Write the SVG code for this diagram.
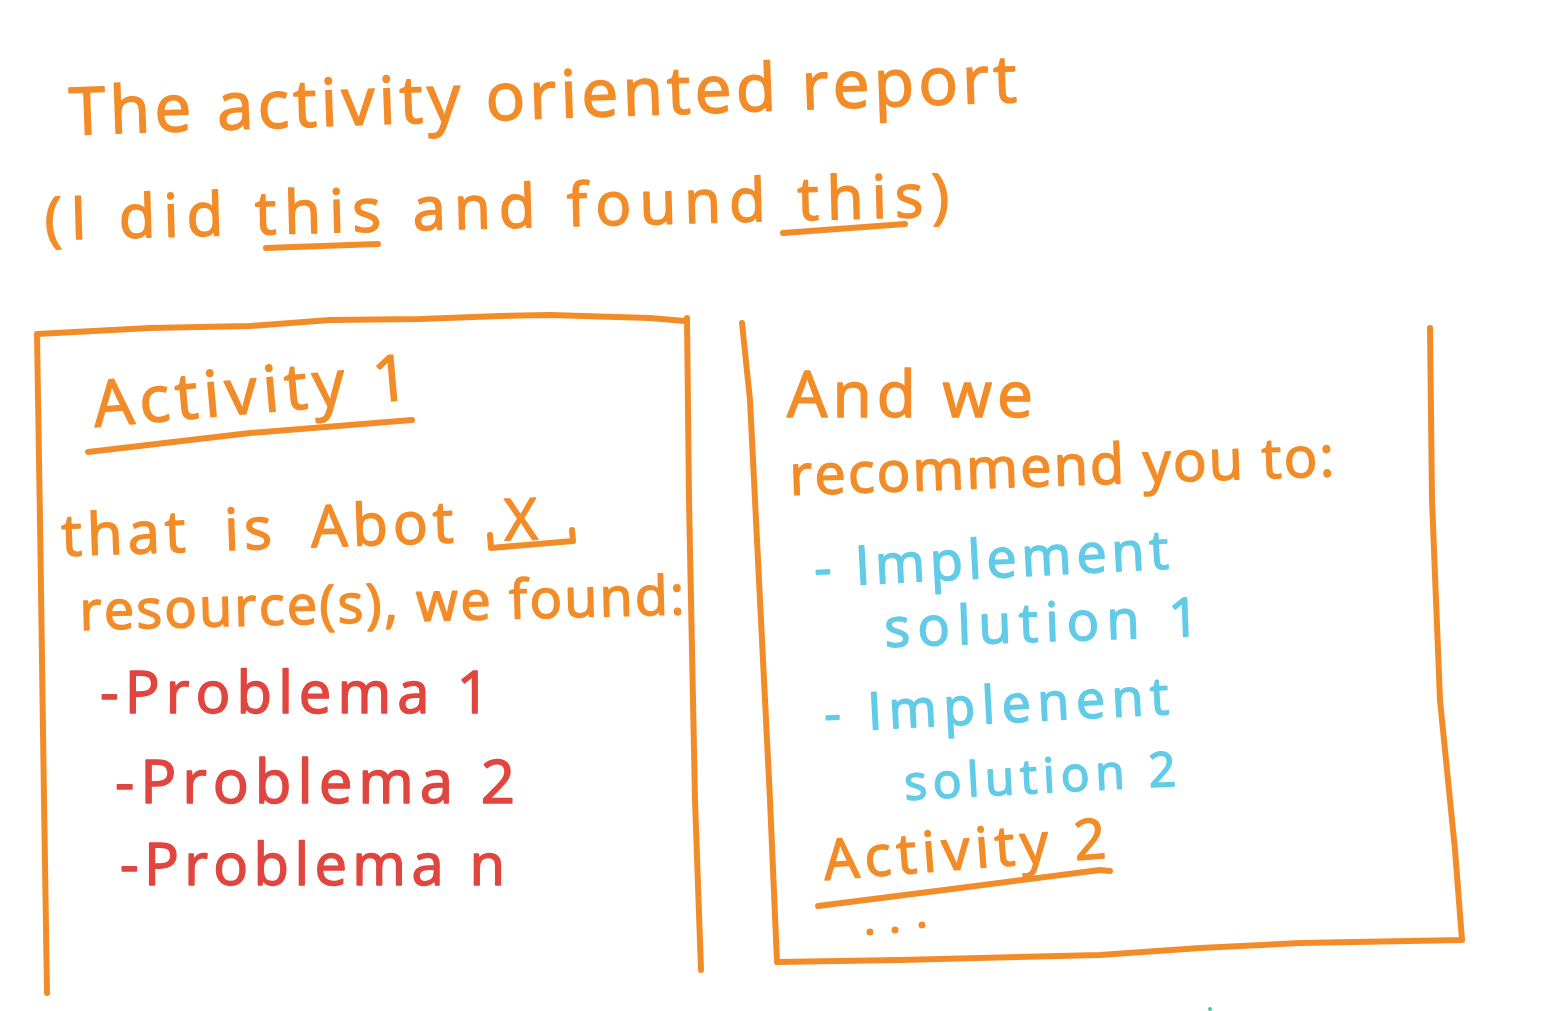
<svg xmlns="http://www.w3.org/2000/svg" width="1566" height="1011" viewBox="0 0 1566 1011">
<style>
text{font-family:"Open Sans","Liberation Sans",sans-serif;font-weight:400;stroke-width:1.5;stroke-linejoin:round}
.o{fill:#F28C28;stroke:#F28C28}
.r{fill:#E0463F;stroke:#E0463F}
.b{fill:#62CBE8;stroke:#62CBE8}
.ln{fill:none;stroke:#F28C28;stroke-width:6;stroke-linecap:round;stroke-linejoin:round}
</style>
<rect width="1566" height="1011" fill="#ffffff"/>
<g id="title">
<text class="o" x="70" y="135" font-size="66" textLength="948" lengthAdjust="spacing" transform="rotate(-2 70 135)">The activity oriented report</text>
<text class="o" x="45" y="240" font-size="60" textLength="905" lengthAdjust="spacing" transform="rotate(-1.5 45 240)">(I did this and found this)</text>
<path class="ln" d="M266 248 L378 244"/>
<path class="ln" d="M783 233 L905 224"/>
</g>
<g id="connectors">
<path class="ln" d="M37 334 L150 328 L250 326 L330 320 L420 319 L500 316 L550 315 L650 318 L685 321 M37 334 L40 520 L44 800 L47 993 M687 318 L689 500 L695 800 L701 970"/>
<path class="ln" d="M742 323 L750 400 L760 600 L770 800 L777 962 L900 960 L1100 955 L1200 948 L1300 943 L1462 940 M1430 328 L1432 500 L1440 700 L1455 850 L1462 940"/>
</g>
<g id="activity1">
<text class="o" x="95" y="427" font-size="64" textLength="317" lengthAdjust="spacing" transform="rotate(-5 95 427)">Activity 1</text>
<path class="ln" d="M88 452 L250 433 L412 420"/>
<text class="o" x="62" y="556" font-size="58" letter-spacing="5" word-spacing="14" transform="rotate(-2 62 556)">that is Abot<tspan x="505">X</tspan></text>
<path class="ln" d="M490 535 L491 548 L573 541 L572 530"/>
<text class="o" x="80" y="630" font-size="54" textLength="605" lengthAdjust="spacing" transform="rotate(-1.5 80 630)">resource(s), we found:</text>
<text class="r" x="100" y="713" font-size="58" textLength="390" lengthAdjust="spacing">-Problema 1</text>
<text class="r" x="115" y="803" font-size="60" textLength="400" lengthAdjust="spacing">-Problema 2</text>
<text class="r" x="120" y="885" font-size="58" textLength="385" lengthAdjust="spacing">-Problema n</text>
</g>
<g id="recommend">
<text class="o" x="787" y="417" font-size="64" textLength="246" lengthAdjust="spacing">And we</text>
<text class="o" x="790" y="495" font-size="56" textLength="545" lengthAdjust="spacing" transform="rotate(-2 790 495)">recommend you to:</text>
<text class="b" x="815" y="587" font-size="54" textLength="355" lengthAdjust="spacing" transform="rotate(-3 815 587)">- Implement</text>
<text class="b" x="885" y="647" font-size="54" textLength="315" lengthAdjust="spacing" transform="rotate(-2 885 647)">solution 1</text>
<text class="b" x="825" y="732" font-size="52" textLength="345" lengthAdjust="spacing" transform="rotate(-3 825 732)">- Implenent</text>
<text class="b" x="905" y="800" font-size="48" textLength="272" lengthAdjust="spacing" transform="rotate(-3 905 800)">solution 2</text>
<circle cx="1210" cy="1009" r="2" fill="#3CCB9A"/>
</g>
<g id="activity2">
<text class="o" x="825" y="880" font-size="56" textLength="283" lengthAdjust="spacing" transform="rotate(-4.5 825 880)">Activity 2</text>
<path class="ln" d="M818 906 L960 888 L1100 870 L1110 871"/>
<circle cx="870" cy="932" r="3.5" fill="#F28C28"/>
<circle cx="895" cy="930" r="3.5" fill="#F28C28"/>
<circle cx="922" cy="925" r="3.5" fill="#F28C28"/>
</g>
</svg>
